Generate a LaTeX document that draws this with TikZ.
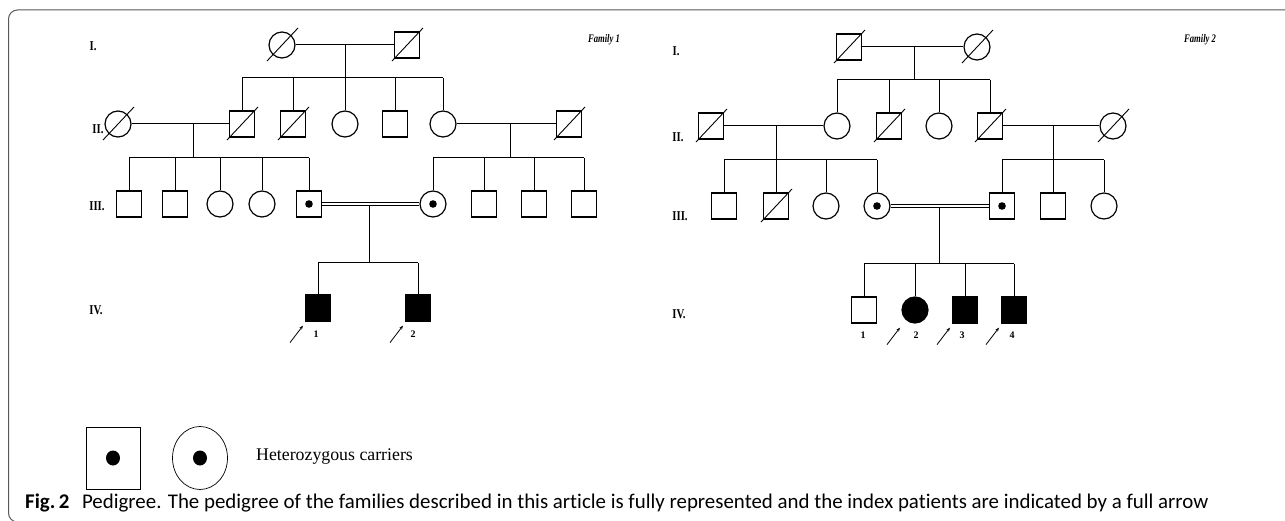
\documentclass[tikz,border=0pt]{standalone}
\usepackage{fontspec}
\setmainfont{Liberation Serif}
\newfontfamily\capfont[Ligatures=NoCommon]{Carlito}
\usetikzlibrary{shapes.geometric,arrows.meta}
\newcommand\narrow[1]{\scalebox{0.8}[1]{#1}}
\tikzset{
  male/.style={draw,rectangle,minimum width=25pt,minimum height=26pt,inner sep=0pt,line width=1.2pt},
  female/.style={draw,circle,minimum size=26pt,inner sep=0pt,line width=1.2pt},
  affected/.style={fill=black},
  carrier/.style={path picture={\fill (path picture bounding box.center) circle (3.8pt);}},
  bigcarrier/.style={draw,line width=0.7pt,inner sep=0pt,path picture={\fill (path picture bounding box.center) ellipse (7pt and 7.5pt);}},
  gen/.style={font=\fontsize{13.5}{15}\selectfont\bfseries},
  fam/.style={font=\fontsize{11.5}{13}\selectfont\bfseries\itshape},
  num/.style={font=\fontsize{10}{11}\selectfont\bfseries},
  pedline/.style={line width=1pt},
  consang/.style={double,double distance=2pt,line width=0.9pt},
  proband/.style={line width=0.8pt,-{Stealth[length=4pt,width=3pt]}},
  frame/.style={line width=1pt,black!65}
}
\begin{document}
\begin{tikzpicture}[x=1pt,y=-1pt]
  \useasboundingbox (0,0) rectangle (1285,521);
  \fill[white] (0,0) rectangle (1285,521);
  \draw[frame,rounded corners=9pt] (1290,10) -- (8.5,10) -- (8.5,522) -- (30,522);

  \path
    (282,45) node[female] (a1) {}
    (407,45) node[male] (a2) {}
    (118,124) node[female] (b1) {}
    (242,124) node[male] (b2) {}
    (293,124) node[male] (b3) {}
    (345,124) node[female] (b4) {}
    (395,124) node[male] (b5) {}
    (443,124) node[female] (b6) {}
    (569,124) node[male] (b7) {}
    (129,204) node[male] (c1) {}
    (175,204) node[male] (c2) {}
    (220,204) node[female] (c3) {}
    (262,204) node[female] (c4) {}
    (309,204) node[male,carrier] (c5) {}
    (433,204) node[female,carrier] (c6) {}
    (484,204) node[male] (c7) {}
    (534,204) node[male] (c8) {}
    (584,204) node[male] (c9) {}
    (318,308) node[male,affected] (d1) {}
    (418,308) node[male,affected] (d2) {};
  \coordinate (m1) at (345,45);  \coordinate (j1) at (345,78);
  \coordinate (m2) at (193,124); \coordinate (j2) at (193,158);
  \coordinate (m3) at (510,124); \coordinate (j3) at (510,158);
  \coordinate (m4) at (369,205.5); \coordinate (j4) at (369,263);

  \path
    (849,47) node[male] (p1) {}
    (977,47) node[female] (p2) {}
    (711,126) node[male] (q1) {}
    (837,126) node[female] (q2) {}
    (889,126) node[male] (q3) {}
    (939,126) node[female] (q4) {}
    (990,126) node[male] (q5) {}
    (1113,126) node[female] (q6) {}
    (724,206) node[male] (r1) {}
    (776,206) node[male] (r2) {}
    (826,206) node[female] (r3) {}
    (877,206) node[female,carrier] (r4) {}
    (1002,206) node[male,carrier] (r5) {}
    (1053,206) node[male] (r6) {}
    (1104,206) node[female] (r7) {}
    (864,310) node[male] (s1) {}
    (915,310) node[female,affected] (s2) {}
    (965,310) node[male,affected] (s3) {}
    (1014,310) node[male,affected] (s4) {};
  \coordinate (n1) at (914,47);  \coordinate (k1) at (914,80);
  \coordinate (n2) at (776,126); \coordinate (k2) at (776,160);
  \coordinate (n3) at (1053,126); \coordinate (k3) at (1053,160);
  \coordinate (n4) at (939,206.5); \coordinate (k4) at (939,264);

  \begin{scope}[pedline]
    \draw (a1) -- (a2);
    \draw (b1) -- (b2);
    \draw (b6) -- (b7);
    \draw (m1) -- (j1);
    \draw (m2) -- (j2);
    \draw (m3) -- (j3);
    \draw (m4) -- (j4);
    \draw (b2 |- j1) -- (b6 |- j1);
    \draw (c1 |- j2) -- (c5 |- j2);
    \draw (c6 |- j3) -- (c9 |- j3);
    \draw (d1 |- j4) -- (d2 |- j4);
    \foreach \n in {b2,b3,b4,b5,b6} \draw (\n |- j1) -- (\n);
    \foreach \n in {c1,c2,c3,c4,c5} \draw (\n |- j2) -- (\n);
    \foreach \n in {c6,c7,c8,c9} \draw (\n |- j3) -- (\n);
    \foreach \n in {d1,d2} \draw (\n |- j4) -- (\n);

    \draw (p1) -- (p2);
    \draw (q1) -- (q2);
    \draw (q5) -- (q6);
    \draw (n1) -- (k1);
    \draw (n2) -- (k2);
    \draw (n3) -- (k3);
    \draw (n4) -- (k4);
    \draw (q2 |- k1) -- (q5 |- k1);
    \draw (r1 |- k2) -- (r4 |- k2);
    \draw (r5 |- k3) -- (r7 |- k3);
    \draw (s1 |- k4) -- (s4 |- k4);
    \foreach \n in {q2,q3,q4,q5} \draw (\n |- k1) -- (\n);
    \foreach \n in {r1,r2,r3,r4} \draw (\n |- k2) -- (\n);
    \foreach \n in {r5,r6,r7} \draw (\n |- k3) -- (\n);
    \foreach \n in {s1,s2,s3,s4} \draw (\n |- k4) -- (\n);

    \foreach \n in {a1,a2,b1,b2,b3,b7,p1,p2,q1,q3,q5,q6,r2}
      \draw[line width=0.9pt] (\n.center) +(-15,16) -- +(16,-17);
  \end{scope}
  \draw[consang] (c5) -- (c6);
  \draw[consang] (r4) -- (r5);

  \foreach \n in {d1,d2,s2,s3,s4}
    \draw[proband] ([shift={(-28,21)}]\n.south) -- ([shift={(-15,4)}]\n.south);

  \node[gen] (g1) at (93,46) {\narrow{I.}};
  \node[gen] (g2) at (98,129) {\narrow{II.}};
  \node[gen] (g3) at (97,206) {\narrow{III.}};
  \node[gen] (g4) at (96,310) {\narrow{IV.}};
  \node[fam] (fam1) at (604,40) {\scalebox{0.75}[1]{Family 1}};
  \node[num] (t1) at (316,334) {1};
  \node[num] (t2) at (413,334) {2};

  \node[gen] (h1) at (676,51) {\narrow{I.}};
  \node[gen] (h2) at (678,137) {\narrow{II.}};
  \node[gen] (h3) at (680,216) {\narrow{III.}};
  \node[gen] (h4) at (679,314) {\narrow{IV.}};
  \node[fam] (fam2) at (1200,40) {\scalebox{0.75}[1]{Family 2}};
  \node[num] (u1) at (863,335) {1};
  \node[num] (u2) at (916,335) {2};
  \node[num] (u3) at (962,335) {3};
  \node[num] (u4) at (1012,335) {4};

  \node[bigcarrier,rectangle,minimum width=54pt,minimum height=62pt] (key1) at (113,458) {};
  \node[bigcarrier,ellipse,minimum width=55pt,minimum height=63pt] (key2) at (200,458) {};
  \node[anchor=west,font=\fontsize{17.8}{20}\selectfont,inner sep=0pt] (keytext) at (256,457) {Heterozygous carriers};

  \node[anchor=base west,inner sep=0pt,font=\capfont\fontsize{20.9}{24}\selectfont] (cap) at (25,508)
    {\textbf{Fig.\,2}\hspace{0.6em}Pedigree. The pedigree of the families described in this article is fully represented and the index patients are indicated by a full arrow};
\end{tikzpicture}
\end{document}
